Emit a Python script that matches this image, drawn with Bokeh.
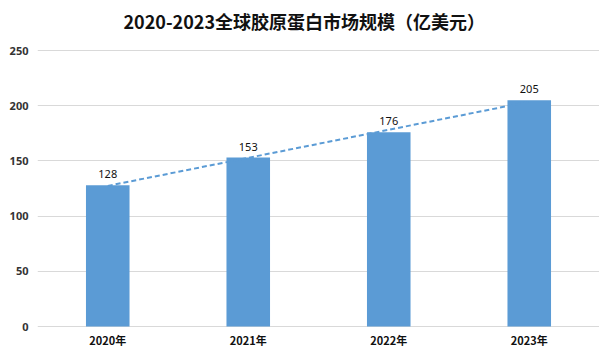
import numpy as np
from bokeh.plotting import figure
from bokeh.models import ColumnDataSource, FixedTicker, Range1d
from bokeh.core.properties import value
from bokeh.embed import file_html
from bokeh.resources import INLINE

years = ["2020年", "2021年", "2022年", "2023年"]
sizes = [128, 153, 176, 205]
y_ticks = [0, 50, 100, 150, 200, 250]
title_text = "2020-2023全球胶原蛋白市场规模（亿美元）"

# linear trendline fitted to the series (as in the original chart)
xi = np.arange(len(sizes))
k, b = np.polyfit(xi, sizes, 1)
trend = list(k * xi + b)

src = ColumnDataSource(dict(x=years, y=sizes, lbl=[str(v) for v in sizes], t=trend,
                            base=[0] * len(years)))

# frame spans the full figure height; the value axis 0..250 sits inside it,
# leaving room for the title above and the category labels below
p = figure(width=599, height=347, x_range=years, y_range=Range1d(-19.0, 295.3),
           output_backend="svg", toolbar_location=None,
           min_border_left=37, min_border_right=0, min_border_top=0, min_border_bottom=0)
p.outline_line_color = None
p.background_fill_color = "white"
p.border_fill_color = "white"

p.vbar(x="x", top="y", width=0.31, source=src, color="#5B9BD5", line_color=None)
p.line(x="x", y="t", source=src, line_color="#5B9BD5", line_width=2, line_dash="5 3")
p.text(x="x", y="y", text="lbl", source=src, text_align="center", text_baseline="bottom",
       y_offset=-7, text_font=value("Noto Sans"), text_font_size="11px", text_color="#111111")

# category labels under the baseline
p.text(x="x", y="base", text="x", source=src, text_align="center", text_baseline="middle",
       y_offset=13, text_font=value("Noto Sans CJK SC"), text_font_size="11px",
       text_font_style="bold", text_color="#111111")

# chart title
p.text(x=[years[1]], y=[y_ticks[-1]], text=[title_text], x_offset=56, y_offset=-30,
       text_align="center", text_baseline="middle", text_font=value("Noto Sans CJK SC"),
       text_font_size="18px", text_font_style="bold", text_color="#111111")

p.xaxis.visible = False
p.xgrid.grid_line_color = None

p.yaxis.ticker = FixedTicker(ticks=y_ticks)
p.ygrid.ticker = FixedTicker(ticks=y_ticks)
p.ygrid.grid_line_color = "#d9d9d9"
p.yaxis.axis_line_color = None
p.yaxis.major_tick_line_color = None
p.yaxis.minor_tick_line_color = None
p.yaxis.major_tick_out = 0
p.yaxis.minor_tick_out = 0
p.yaxis.major_label_standoff = 9
p.yaxis.major_label_text_font = "Noto Sans"
p.yaxis.major_label_text_font_size = "11px"
p.yaxis.major_label_text_font_style = "bold"
p.yaxis.major_label_text_color = "#333333"

open("out.html", "w").write(file_html(p, INLINE))
